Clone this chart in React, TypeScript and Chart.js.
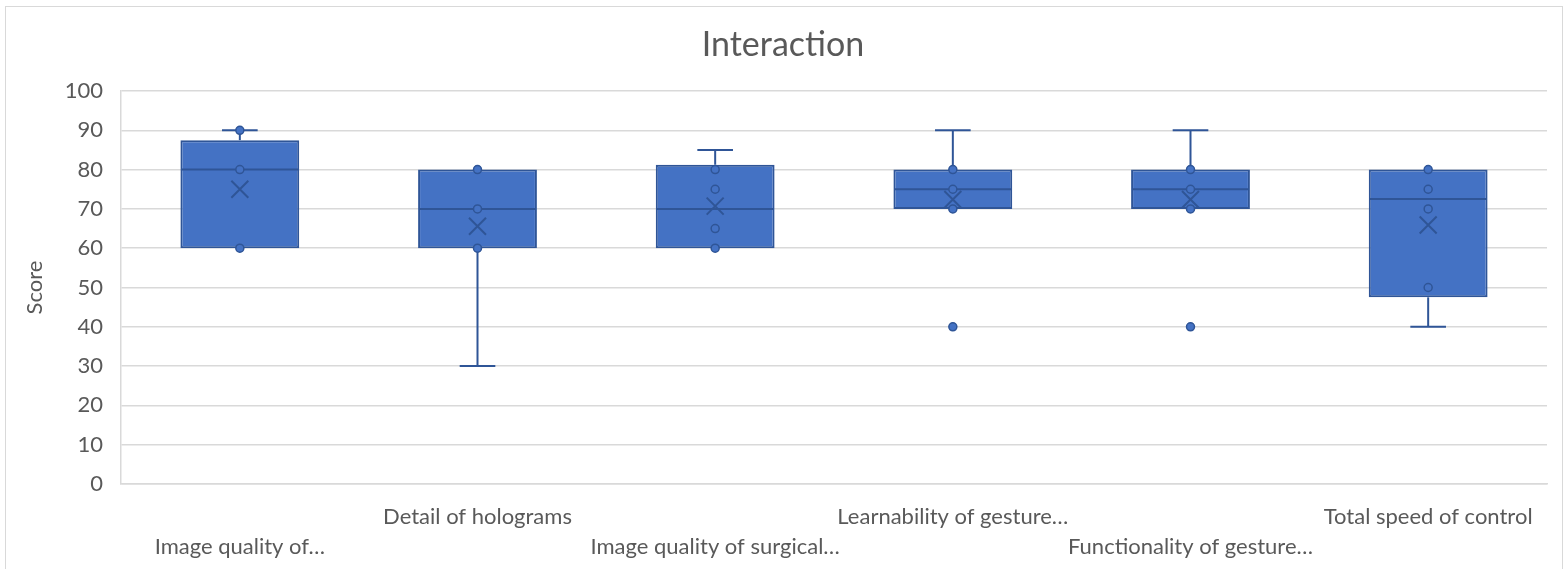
import React, { useEffect, useRef } from 'react';
import { Chart, registerables } from 'chart.js';

Chart.register(...registerables);

const categories = [
  'Image quality of…',
  'Detail of holograms',
  'Image quality of surgical…',
  'Learnability of gesture…',
  'Functionality of gesture…',
  'Total speed of control',
];
const q1 = [60, 60, 60, 70, 70, 47.5];
const q3 = [87.5, 80, 81.25, 80, 80, 80];
const median = [80, 70, 70, 75, 75, 72.5];
const whiskerLow = [60, 30, 60, 70, 70, 40];
const whiskerHigh = [90, 80, 85, 90, 90, 80];
const mean = [75, 65.6, 70.7, 72.4, 72.4, 65.9];
const pointValues = [
  [90, 80, 60],
  [80, 70, 60],
  [80, 75, 65, 60],
  [80, 75, 70, 40],
  [80, 75, 70, 40],
  [80, 75, 70, 50],
];
const yMin = 0;
const yMax = 100;
const yStep = 10;

const FONT = 'Lato';
const TEXT = '#595959';
const GRID = '#D9D9D9';
const FILL = '#4472C4';
const LINE = '#2F5597';

const boxExtras = {
  id: 'boxExtras',
  afterDatasetDraw(chart: any, args: any) {
    if (args.index !== 0) return;
    const { ctx } = chart;
    const x = chart.scales.x;
    const y = chart.scales.y;
    const meta = chart.getDatasetMeta(0);
    ctx.save();
    ctx.strokeStyle = LINE;
    ctx.lineWidth = 2;
    const seg = (x1: number, y1: number, x2: number, y2: number) => {
      ctx.beginPath();
      ctx.moveTo(x1, y1);
      ctx.lineTo(x2, y2);
      ctx.stroke();
    };
    meta.data.forEach((bar: any, i: number) => {
      const cx = x.getPixelForValue(i);
      const half = bar.width / 2;
      const capHalf = bar.width * 0.15;
      const ym = y.getPixelForValue(median[i]);
      seg(cx - half + 1, ym, cx + half - 1, ym);
      if (whiskerHigh[i] > q3[i]) {
        const yt = y.getPixelForValue(whiskerHigh[i]);
        seg(cx, y.getPixelForValue(q3[i]), cx, yt);
        seg(cx - capHalf, yt, cx + capHalf, yt);
      }
      if (whiskerLow[i] < q1[i]) {
        const yb = y.getPixelForValue(whiskerLow[i]);
        seg(cx, y.getPixelForValue(q1[i]), cx, yb);
        seg(cx - capHalf, yb, cx + capHalf, yb);
      }
    });
    ctx.restore();
  },
};

export default function App() {
  const ref = useRef<HTMLCanvasElement>(null);
  useEffect(() => {
    const pointData = pointValues.flatMap((vals, i) =>
      vals.map((v) => ({ x: categories[i], y: v }))
    );
    const meanData = mean.map((m, i) => ({ x: categories[i], y: m }));
    const chart = new Chart(ref.current as HTMLCanvasElement, {
      type: 'bar',
      data: {
        labels: categories,
        datasets: [
          {
            type: 'bar',
            data: categories.map((_, i) => [q1[i], q3[i]]),
            backgroundColor: FILL,
            borderColor: LINE,
            borderWidth: 2,
            borderSkipped: false,
            barPercentage: 0.5,
            categoryPercentage: 1,
            order: 3,
          } as any,
          {
            type: 'line',
            data: pointData,
            showLine: false,
            pointStyle: 'circle',
            pointRadius: 4,
            pointBackgroundColor: FILL,
            pointBorderColor: LINE,
            pointBorderWidth: 1.5,
            order: 1,
          } as any,
          {
            type: 'line',
            data: meanData,
            showLine: false,
            pointStyle: 'crossRot',
            pointRadius: 12,
            pointBorderColor: LINE,
            pointBorderWidth: 2,
            order: 0,
          } as any,
        ],
      },
      options: {
        responsive: false,
        animation: false,
        events: [],
        layout: { padding: { left: 0, right: 0, top: 0, bottom: 0 } },
        plugins: {
          legend: { display: false },
          tooltip: { enabled: false },
          title: {
            display: true,
            text: 'Interaction',
            color: TEXT,
            font: { family: FONT, size: 34, weight: 'normal' },
            padding: { top: 24.5, bottom: 25.7 },
          },
        },
        scales: {
          x: {
            type: 'category',
            grid: { display: false, drawTicks: false },
            border: { display: true, color: GRID, width: 1.5 },
            ticks: {
              autoSkip: false,
              maxRotation: 0,
              minRotation: 0,
              color: TEXT,
              padding: 18,
              font: { family: FONT, size: 22, lineHeight: '30px' },
              callback: (_v: any, i: number) =>
                i % 2 === 0 ? ['', categories[i]] : categories[i],
            },
            afterFit: (s: any) => {
              s.height = 85;
            },
          },
          y: {
            min: yMin,
            max: yMax,
            ticks: {
              stepSize: yStep,
              color: TEXT,
              padding: 18,
              font: { family: FONT, size: 22 },
            },
            grid: { color: GRID, lineWidth: 1.5, drawTicks: false },
            border: { display: true, color: GRID, width: 1.5 },
            title: {
              display: true,
              text: 'Score',
              color: TEXT,
              font: { family: FONT, size: 22 },
              padding: { top: 22, bottom: 0 },
            },
            afterFit: (s: any) => {
              s.width = 121;
            },
          },
          yRight: {
            position: 'right',
            display: true,
            min: yMin,
            max: yMax,
            grid: { display: false, drawTicks: false },
            border: { display: false },
            ticks: { display: false },
            afterFit: (s: any) => {
              s.width = 19;
            },
          },
        },
      } as any,
      plugins: [boxExtras],
    });
    return () => chart.destroy();
  }, []);

  return (
    <div
      style={{
        position: 'fixed',
        left: 0,
        top: 0,
        width: 1566,
        height: 569,
        background: '#fff',
        overflow: 'hidden',
      }}
    >
      <div
        style={{
          position: 'absolute',
          left: 5,
          top: 6,
          width: 1556,
          height: 600,
          border: '1.5px solid #D9D9D9',
        }}
      />
      <canvas
        ref={ref}
        width={1566}
        height={569}
        style={{ position: 'absolute', left: 0, top: 0, width: 1566, height: 569 }}
      />
    </div>
  );
}
